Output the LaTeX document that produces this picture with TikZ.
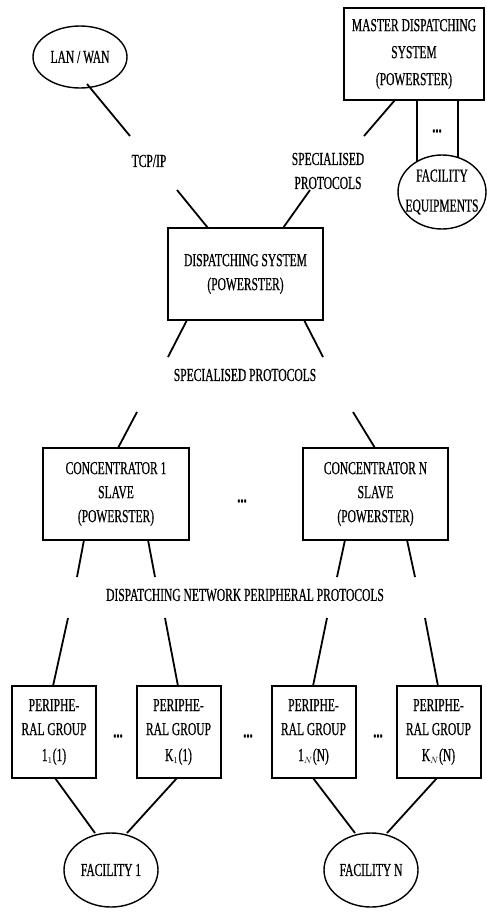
\documentclass[tikz,border=0pt]{standalone}
\usepackage{fontspec}
\setmainfont{Liberation Serif}[FakeStretch=0.63,FakeBold=0.6]
\usetikzlibrary{shapes.geometric}
\begin{document}
\begin{tikzpicture}[x=1pt,y=-1pt,
  every node/.style={font=\fontsize{18.3}{24}\selectfont, inner sep=0pt, align=center},
  box/.style={draw, line width=2pt, rectangle},
  oval/.style={draw, line width=1.4pt, ellipse},
  conn/.style={line width=1.8pt},
  dts/.style={font=\fontsize{20}{24}\selectfont\bfseries}]
\useasboundingbox (0,0) rectangle (487,913);
% nodes
\node[oval, minimum width=94, minimum height=62] (lan) at (80,57) {LAN / WAN};
\node[box, minimum width=140, minimum height=92] (master) at (414,54) {MASTER DISPATCHING\\[3pt]SYSTEM\\[3pt](POWERSTER)};
\node[oval, minimum width=88, minimum height=74, inner sep=-6pt, fill=white] (fe) at (442,192) {FACILITY\\[6pt]EQUIPMENTS};
\node[dts] (dots0) at (437,131) {...};
\node (tcp) at (149,161) {TCP/IP};
\node (sp1) at (328,171) {SPECIALISED\\PROTOCOLS};
\node[box, minimum width=155, minimum height=92] (ds) at (245.5,274) {DISPATCHING SYSTEM\\(POWERSTER)};
\node (sp2) at (245,375) {SPECIALISED PROTOCOLS};
\node[box, minimum width=146, minimum height=92] (c1) at (116,494) {CONCENTRATOR 1\\SLAVE\\(POWERSTER)};
\node[box, minimum width=145, minimum height=92] (cN) at (375.5,494) {CONCENTRATOR N\\SLAVE\\(POWERSTER)};
\node[dts] (dots1) at (242,501) {...};
\node (dnpp) at (245,595) {DISPATCHING NETWORK PERIPHERAL PROTOCOLS};
\node[box, minimum width=84, minimum height=92] (p1) at (54,732) {PERIPHE-\\RAL GROUP\\[2pt]1$_{\scriptscriptstyle 1}$(1)};
\node[box, minimum width=84, minimum height=92] (p2) at (178.5,732) {PERIPHE-\\RAL GROUP\\[2pt]K$_{\scriptscriptstyle 1}$(1)};
\node[box, minimum width=84, minimum height=92] (p3) at (313.5,732) {PERIPHE-\\RAL GROUP\\[2pt]1$_{\scriptscriptstyle N}$(N)};
\node[box, minimum width=84, minimum height=92] (p4) at (438.5,732) {PERIPHE-\\RAL GROUP\\[2pt]K$_{\scriptscriptstyle N}$(N)};
\node[dts] (dots2) at (118,736) {...};
\node[dts] (dots3) at (248,736) {...};
\node[dts] (dots4) at (378,736) {...};
\node[oval, minimum width=94, minimum height=74] (f1) at (111,870) {FACILITY 1};
\node[oval, minimum width=94, minimum height=74] (fN) at (371,870) {FACILITY N};
% connector end points
\coordinate (a1) at (87,84);   \coordinate (a2) at (130,136);
\coordinate (b1) at (177,190); \coordinate (b2) at (208,228);
\coordinate (c1a) at (395,100); \coordinate (c1b) at (364,136);
\coordinate (d1) at (310,190); \coordinate (d2) at (283,228);
\coordinate (e1) at (417,100); \coordinate (e2) at (417,162);
\coordinate (e3) at (458,100); \coordinate (e4) at (458,157.5);
\coordinate (g1) at (187,320); \coordinate (g2) at (168,357);
\coordinate (h1) at (304,320); \coordinate (h2) at (323,357);
\coordinate (i1) at (137,412); \coordinate (i2) at (118,448);
\coordinate (j1) at (353,412); \coordinate (j2) at (375,448);
\coordinate (k1) at (84,540);  \coordinate (k2) at (77,577);
\coordinate (l1) at (148,540); \coordinate (l2) at (155,577);
\coordinate (m1) at (345,540); \coordinate (m2) at (337,577);
\coordinate (n1) at (407,540); \coordinate (n2) at (415,577);
\coordinate (o1) at (68,618);  \coordinate (o2) at (53,686);
\coordinate (q1) at (165,618); \coordinate (q2) at (178,686);
\coordinate (r1) at (327,618); \coordinate (r2) at (313,686);
\coordinate (s1) at (425,618); \coordinate (s2) at (438,686);
\coordinate (t1) at (55,778);  \coordinate (t2) at (95,833);
\coordinate (u1) at (177,778); \coordinate (u2) at (127,833);
\coordinate (v1) at (313,778); \coordinate (v2) at (355,833);
\coordinate (w1) at (437,778); \coordinate (w2) at (387,833);
% connectors
\foreach \p/\q in {a1/a2,b1/b2,c1a/c1b,d1/d2,e1/e2,e3/e4,g1/g2,h1/h2,i1/i2,j1/j2,k1/k2,l1/l2,m1/m2,n1/n2,o1/o2,q1/q2,r1/r2,s1/s2,t1/t2,u1/u2,v1/v2,w1/w2}
  \draw[conn] (\p) -- (\q);
\end{tikzpicture}
\end{document}
